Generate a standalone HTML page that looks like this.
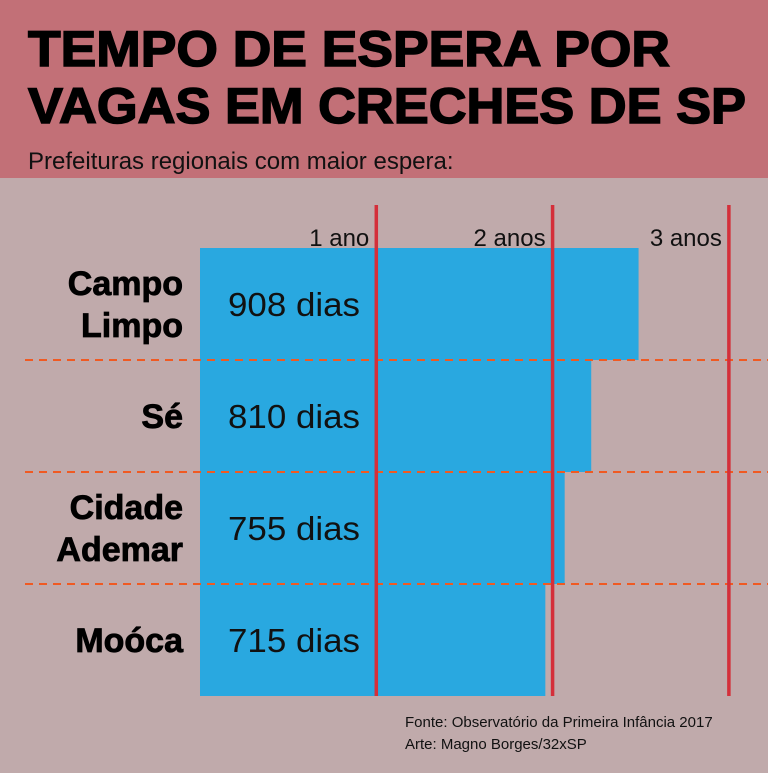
<!DOCTYPE html>
<html><head><meta charset="utf-8"><style>
body{margin:0;width:768px;height:768px;overflow:hidden;background:#c0aaab;font-family:"Liberation Sans",sans-serif}
</style></head><body>
<svg width="768" height="768" xmlns="http://www.w3.org/2000/svg">
<rect x="0" y="0" width="768" height="178" fill="#c27077"/>
<text x="28" y="66" font-size="50" font-weight="900" fill="#000" stroke="#000" stroke-width="1.5" textLength="642" lengthAdjust="spacingAndGlyphs">TEMPO DE ESPERA POR</text>
<text x="28" y="123" font-size="50" font-weight="900" fill="#000" stroke="#000" stroke-width="1.5" textLength="718" lengthAdjust="spacingAndGlyphs">VAGAS EM CRECHES DE SP</text>
<text x="28" y="169" font-size="24" fill="#111">Prefeituras regionais com maior espera:</text>
<g id="plot"></g>
<text x="405" y="727" font-size="15" fill="#111">Fonte: Observatório da Primeira Infância 2017</text>
<text x="405" y="749" font-size="15" fill="#111">Arte: Magno Borges/32xSP</text>
</svg>
<script>
const categories=[["Campo","Limpo"],["Sé"],["Cidade","Ademar"],["Moóca"]];
const values=[908,810,755,715];
const valueLabels=["908 dias","810 dias","755 dias","715 dias"];
const tickValues=[365,730,1095];
const tickLabels=["1 ano","2 anos","3 anos"];
const NS="http://www.w3.org/2000/svg";
const g=document.getElementById('plot');
const x=d=>200+d*0.483;
const rowTop=248,rowH=112;
const y=i=>rowTop+i*rowH;
function mk(t,a){const e=document.createElementNS(NS,t);for(const k in a)e.setAttribute(k,a[k]);g.appendChild(e);return e;}
values.forEach((v,i)=>{
  const r=mk('rect',{x:200,y:y(i),width:x(v)-200,height:rowH,fill:'#29a8e0'});
  
  
  const t=mk('text',{x:228,y:y(i)+rowH/2+12,'font-size':33,fill:'#111',textLength:132,lengthAdjust:'spacingAndGlyphs'});
  t.textContent=valueLabels[i];
  
  
  const lines=categories[i];
  lines.forEach((ln,j)=>{
    const c=mk('text',{x:183,y:y(i)+rowH/2+12+(j-(lines.length-1)/2)*42,'font-size':34,'font-weight':'bold','text-anchor':'end',fill:'#000',stroke:'#000','stroke-width':0.8});
    c.textContent=ln;
    
    
  });
  if(i>0){
    const d=mk('line',{x1:25,x2:768,y1:y(i),y2:y(i),stroke:'#f05a22','stroke-width':2,'stroke-dasharray':'8 6'});
    
    
  }
});
tickValues.forEach((v,i)=>{
  const l=mk('line',{x1:x(v),x2:x(v),y1:205,y2:y(values.length),stroke:'#d42f3a','stroke-width':3.5});
  
  
  const t=mk('text',{x:x(v)-7,y:246,'font-size':24,'text-anchor':'end',fill:'#111'});
  t.textContent=tickLabels[i];
  
  
});
</script>
</body></html>
